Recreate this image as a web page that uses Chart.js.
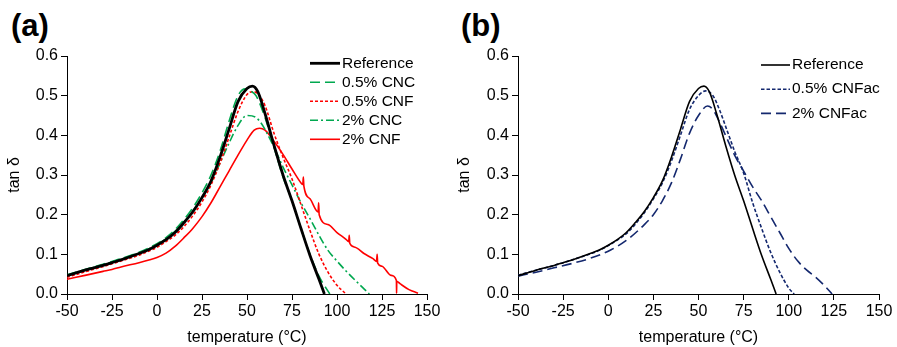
<!DOCTYPE html>
<html>
<head>
<meta charset="utf-8">
<script src="https://cdn.jsdelivr.net/npm/chart.js@4"></script>
<style>
  body { margin: 0; background: #fff; width: 897px; height: 347px; position: relative; overflow: hidden; }
  canvas { position: absolute; top: 0; }
  .tag { position: absolute; top: 8px; line-height: 1; font: bold 31px "Liberation Sans", Arial, sans-serif; color: #000; }
</style>
</head>
<body>
<div class="tag" style="left:11px">(a)</div>
<div class="tag" style="left:461px">(b)</div>
<canvas id="chartA" width="450" height="347" style="left:0"></canvas>
<canvas id="chartB" width="447" height="347" style="left:450px"></canvas>
<script>
// tick labels
var xTicks = [-50, -25, 0, 25, 50, 75, 100, 125, 150];
var yTicks = [0, 0.1, 0.2, 0.3, 0.4, 0.5, 0.6];

// [temperature (°C), tan δ]
var reference = [[-50,0.046],[-40,0.06],[-30,0.072],[-25,0.079],[-20,0.086],[-10,0.102],[-5,0.111],[0,0.123],[5,0.137],[10,0.155],[15,0.18],[20,0.208],[25,0.243],[30,0.285],[35,0.345],[40,0.415],[45,0.485],[50,0.518],[53,0.524],[56,0.51],[60,0.455],[65,0.375],[70,0.3],[75,0.235],[80,0.165],[85,0.097],[90,0.037],[93,0]];
var cnc05 = [[-50,0.048],[-40,0.062],[-30,0.075],[-25,0.082],[-20,0.089],[-10,0.105],[-5,0.115],[0,0.127],[5,0.142],[10,0.162],[15,0.188],[20,0.218],[25,0.255],[30,0.3],[35,0.36],[40,0.435],[45,0.5],[49,0.517],[52,0.512],[55,0.5],[60,0.445],[65,0.37],[70,0.295],[75,0.235],[80,0.165],[85,0.1],[90,0.045],[96,0]];
var cnf05 = [[-50,0.042],[-40,0.056],[-30,0.069],[-25,0.076],[-20,0.083],[-10,0.098],[-5,0.107],[0,0.118],[5,0.132],[10,0.148],[15,0.17],[20,0.198],[25,0.232],[30,0.275],[35,0.33],[40,0.395],[45,0.46],[50,0.503],[53,0.51],[56,0.505],[60,0.475],[65,0.405],[70,0.345],[75,0.29],[80,0.225],[85,0.16],[90,0.1],[95,0.055],[100,0.022],[105,0]];
var cnc2 = [[-50,0.047],[-40,0.061],[-30,0.074],[-25,0.081],[-20,0.088],[-10,0.104],[-5,0.113],[0,0.125],[5,0.139],[10,0.158],[15,0.182],[20,0.21],[25,0.243],[30,0.28],[35,0.33],[40,0.38],[45,0.425],[50,0.45],[55,0.445],[58,0.43],[60,0.415],[65,0.37],[70,0.32],[75,0.275],[80,0.23],[85,0.19],[90,0.148],[95,0.11],[100,0.083],[105,0.058],[110,0.035],[115,0.013],[118,0]];
var cnf2 = [[-50,0.037],[-40,0.047],[-30,0.057],[-25,0.062],[-20,0.068],[-10,0.079],[-5,0.085],[0,0.092],[5,0.103],[10,0.12],[15,0.142],[20,0.166],[25,0.195],[30,0.23],[35,0.27],[40,0.31],[45,0.35],[50,0.388],[54,0.413],[57,0.418],[60,0.413],[65,0.385],[70,0.352],[75,0.315],[80,0.28],[81,0.276],[81.3,0.295],[81.6,0.272],[85,0.24],[89.5,0.207],[89.8,0.23],[90.1,0.2],[95,0.175],[100,0.155],[105,0.138],[106.5,0.132],[106.8,0.148],[107.1,0.128],[110,0.118],[115,0.102],[120,0.089],[122,0.082],[122.3,0.1],[122.6,0.078],[125,0.07],[130,0.047],[133,0.034],[133.1,0.002],[133.2,0.032],[135,0.026],[140,0.011],[145,0.002]];
var cnfac05 = [[-50,0.047],[-40,0.06],[-30,0.072],[-25,0.079],[-20,0.086],[-10,0.101],[-5,0.11],[0,0.122],[5,0.136],[10,0.152],[15,0.176],[20,0.205],[25,0.24],[30,0.28],[35,0.335],[40,0.4],[45,0.465],[50,0.5],[54,0.512],[58,0.5],[62,0.46],[66,0.41],[70,0.36],[75,0.305],[80,0.23],[85,0.165],[90,0.105],[95,0.055],[100,0.015],[103,0]];
var cnfac2 = [[-50,0.045],[-40,0.055],[-30,0.066],[-20,0.077],[-10,0.09],[0,0.108],[10,0.135],[20,0.175],[25,0.2],[30,0.235],[35,0.28],[40,0.34],[45,0.405],[50,0.45],[55,0.474],[58,0.465],[62,0.43],[65,0.4],[70,0.35],[75,0.31],[80,0.27],[85,0.235],[90,0.195],[95,0.155],[100,0.115],[105,0.083],[110,0.06],[115,0.042],[120,0.02],[124,0]];

var FONT = '"Liberation Sans", Arial, sans-serif';
var GREEN = "#00a84f", RED = "#ff0000", NAVY = "#14286e";

function pts(arr) {
    return arr.map(p => ({ x: p[0], y: p[1] }));
}

function line(label, arr, color, width, dash) {
    return {
        label: label,
        data: pts(arr),
        borderColor: color,
        borderWidth: width,
        borderDash: dash,
        pointRadius: 0,
        fill: false,
        cubicInterpolationMode: "monotone"
    };
}

// legend drawn inside the plot area, line sample + label
var legendLines = {
    id: "legendLines",
    afterDatasetsDraw(chart, args, opts) {
        var ctx = chart.ctx;
        ctx.save();
        ctx.font = "15.5px " + FONT;
        ctx.textBaseline = "middle";
        chart.data.datasets.forEach(function (ds, i) {
            var y = opts.top + i * opts.gap;
            ctx.beginPath();
            ctx.setLineDash(ds.borderDash || []);
            ctx.strokeStyle = ds.borderColor;
            ctx.lineWidth = ds.borderWidth;
            ctx.moveTo(opts.x1, y);
            ctx.lineTo(opts.x2, y);
            ctx.stroke();
            ctx.setLineDash([]);
            ctx.fillStyle = "#000";
            ctx.fillText(ds.label, opts.x2 + 2, y);
        });
        ctx.restore();
    }
};

function makeOptions(yWidth, padRight, legend) {
    return {
        responsive: false,
        animation: false,
        devicePixelRatio: 1,
        layout: { padding: { top: 56, right: padRight, left: 0, bottom: 0 } },
        plugins: { legend: { display: false }, tooltip: { enabled: false }, legendLines: legend },
        scales: {
            x: {
                type: "linear", min: -50, max: 150,
                afterBuildTicks: s => { s.ticks = xTicks.map(v => ({ value: v })); },
                afterFit: s => { s.height = 53; s.paddingLeft = 0; s.paddingRight = 0; },
                grid: { drawOnChartArea: false, drawTicks: true, tickLength: 6, color: "#000" },
                border: { color: "#000", width: 1 },
                ticks: { color: "#000", font: { size: 16, family: FONT }, padding: 2, maxRotation: 0, autoSkip: false, callback: v => String(v) },
                title: { display: true, text: "temperature (°C)", color: "#000", font: { size: 16, family: FONT }, padding: 0 }
            },
            y: {
                type: "linear", min: 0, max: 0.6,
                afterBuildTicks: s => { s.ticks = yTicks.map(v => ({ value: v })); },
                afterFit: s => { s.width = yWidth; s.paddingTop = 0; s.paddingBottom = 0; },
                grid: { drawOnChartArea: false, drawTicks: true, tickLength: 6, color: "#000" },
                border: { color: "#000", width: 1 },
                ticks: { color: "#000", font: { size: 16, family: FONT }, padding: 3, autoSkip: false, callback: v => v.toFixed(1) },
                title: { display: true, text: "tan δ", color: "#000", font: { size: 16, family: FONT }, padding: { top: 5, bottom: 0 } }
            }
        }
    };
}

new Chart(document.getElementById("chartA"), {
    type: "line",
    data: {
        datasets: [
            line("Reference", reference, "#000", 2.8, []),
            line("0.5% CNC", cnc05, GREEN, 1.6, [10, 5]),
            line("0.5% CNF", cnf05, RED, 1.6, [3, 2]),
            line("2% CNC", cnc2, GREEN, 1.6, [8, 3, 2, 3]),
            line("2% CNF", cnf2, RED, 1.6, [])
        ]
    },
    options: makeOptions(67, 23, { x1: 310, x2: 340, top: 63.3, gap: 19 }),
    plugins: [legendLines]
});

new Chart(document.getElementById("chartB"), {
    type: "line",
    data: {
        datasets: [
            line("Reference", reference, "#000", 1.6, []),
            line("0.5% CNFac", cnfac05, NAVY, 1.6, [3.5, 2]),
            line("2% CNFac", cnfac2, NAVY, 1.6, [10, 5])
        ]
    },
    options: makeOptions(68, 18, { x1: 311, x2: 340, top: 65, gap: 24.2 }),
    plugins: [legendLines]
});
</script>
</body>
</html>
